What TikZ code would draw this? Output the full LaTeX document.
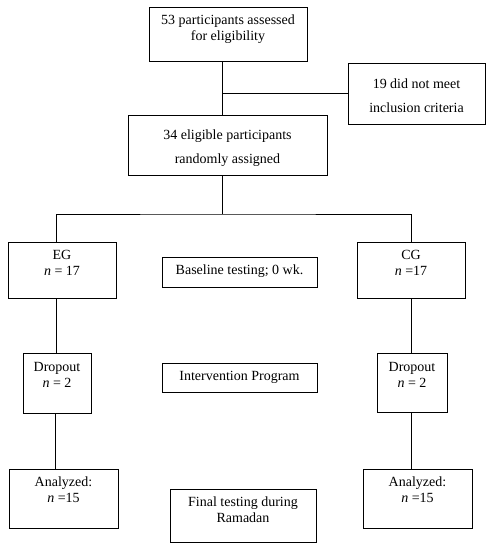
\documentclass[tikz,border=0pt]{standalone}
\usepackage{fontspec}
\setmainfont{Liberation Serif}
\usetikzlibrary{positioning}

\tikzset{
	box/.style={draw, line width=0.7pt, inner sep=0pt},
	txt/.style={align=center, inner sep=0pt, anchor=base, font=\fontsize{14}{16}\selectfont},
	wide/.style={font=\fontsize{14}{24}\selectfont},
	link/.style={line width=0.7pt},
}

\begin{document}
\begin{tikzpicture}[x=1pt,y=-1pt]
	\useasboundingbox (0,0) rectangle (492,550);
	
	% top of the chart
	\node[box, minimum width=158pt, minimum height=54pt] (assess) at (228,34) {};
	\node[box, minimum width=137pt, minimum height=61pt] (excl) at (416.5,93.5) {};
	\node[box, minimum width=199pt, minimum height=60pt] (elig) at (227.5,145) {};
	\node[txt] (assessT) at ([yshift=-34pt]assess.north) {53 participants assessed\\for eligibility};
	\node[txt, wide] (exclT) at ([yshift=-50pt]excl.north) {19 did not meet\\inclusion criteria};
	\node[txt, wide] (eligT) at ([yshift=-49pt]elig.north) {34 eligible participants\\randomly assigned};
	
	% groups
	\node[box, minimum width=108pt, minimum height=56pt] (eg) at (62,270) {};
	\node[box, minimum width=108pt, minimum height=56pt] (cg) at (411,270) {};
	\node[box, minimum width=68pt, minimum height=60pt] (dropL) at (57,383) {};
	\node[box, minimum width=70pt, minimum height=59pt] (dropR) at (412,382.5) {};
	\node[box, minimum width=109pt, minimum height=59pt] (anaL) at (63.5,498.5) {};
	\node[box, minimum width=109pt, minimum height=59pt] (anaR) at (417.5,498.5) {};
	\node[txt] (egT) at ([yshift=-34pt]eg.north) {EG\\\textit{n} = 17};
	\node[txt] (cgT) at ([yshift=-34pt]cg.north) {CG\\\textit{n} =17};
	\node[txt] (dropLT) at ([yshift=-35pt]dropL.north) {Dropout\\\textit{n} = 2};
	\node[txt] (dropRT) at ([yshift=-35pt]dropR.north) {Dropout\\\textit{n} = 2};
	\node[txt] (anaLT) at ([yshift=-34pt]anaL.north) {Analyzed:\\\textit{n} =15};
	\node[txt] (anaRT) at ([yshift=-34pt]anaR.north) {Analyzed:\\\textit{n} =15};
	
	% phases in the middle
	\node[box, minimum width=155pt, minimum height=30pt] (base) at (239.5,272) {};
	\node[box, minimum width=155pt, minimum height=29pt] (interv) at (239.5,377.5) {};
	\node[box, minimum width=146pt, minimum height=53pt] (final) at (243,515.5) {};
	\node[txt] (baseT) at ([yshift=-18pt]base.north) {Baseline testing; 0 wk.};
	\node[txt] (intervT) at ([yshift=-18pt]interv.north) {Intervention Program};
	\node[txt] (finalT) at ([yshift=-34pt]final.north) {Final testing during\\Ramadan};
	
	% connectors
	\coordinate (split) at (222,214);
	\draw[link] ([xshift=-6pt]assess.south) -- (elig.north -| split);
	\draw[link] (excl.west) -- (excl.west -| split);
	\draw[link] (elig.south -| split) -- (split);
	\draw[link] ([xshift=-6pt]eg.north) |- (split) -| (cg.north);
	\draw[link] ([xshift=-6pt]eg.south) -- ([xshift=-6pt]eg.south |- dropL.north);
	\draw[link] ([xshift=-2pt]dropL.south) -- ([xshift=-2pt]dropL.south |- anaL.north);
	\draw[link] ([xshift=-1pt]dropR.north |- cg.south) -- ([xshift=-1pt]dropR.north);
	\draw[link] ([xshift=-1pt]dropR.south) -- ([xshift=-1pt]dropR.south |- anaR.north);
\end{tikzpicture}
\end{document}
